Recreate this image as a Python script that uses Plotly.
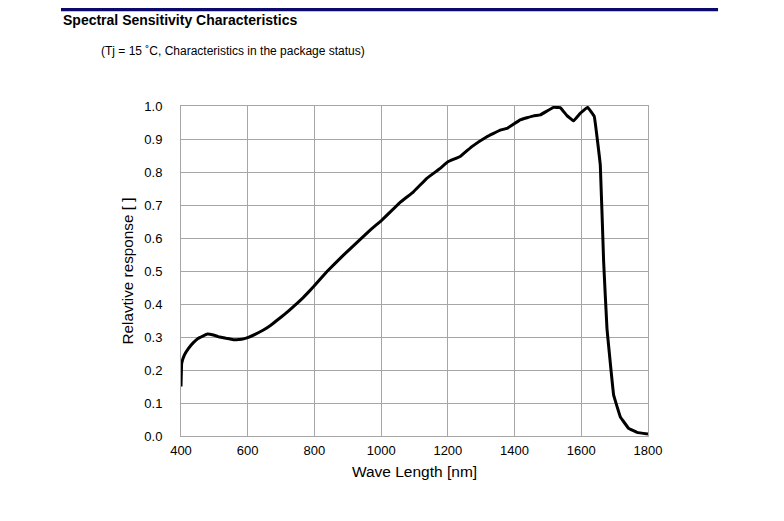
import plotly.graph_objects as go

wavelength = [400, 402, 410, 422, 437, 452, 479, 497, 512, 535, 557, 582, 602, 622, 647, 667, 687, 712, 737,
              767, 797, 837, 887, 927, 967, 1000, 1057, 1097, 1137, 1177, 1200, 1237, 1272, 1317, 1357,
              1377, 1417, 1457, 1477, 1517, 1537, 1557, 1577, 1597, 1619, 1639, 1657, 1667, 1677, 1697,
              1717, 1742, 1767, 1800]
response = [0.15, 0.22, 0.245, 0.265, 0.283, 0.296, 0.309, 0.306, 0.301, 0.296, 0.292, 0.293, 0.299,
            0.308, 0.321, 0.334, 0.35, 0.37, 0.392, 0.42, 0.452, 0.498, 0.548, 0.586, 0.624, 0.652,
            0.708, 0.74, 0.781, 0.811, 0.831, 0.847, 0.877, 0.907, 0.927, 0.932, 0.958, 0.97, 0.973,
            0.996, 0.995, 0.971, 0.955, 0.978, 0.996, 0.968, 0.821, 0.528, 0.326, 0.124, 0.058, 0.023,
            0.011, 0.006]

x_ticks = [400, 600, 800, 1000, 1200, 1400, 1600, 1800]
y_ticks = [0.0, 0.1, 0.2, 0.3, 0.4, 0.5, 0.6, 0.7, 0.8, 0.9, 1.0]

font = "Liberation Sans, Arial, sans-serif"

fig = go.Figure()
fig.add_trace(go.Scatter(x=wavelength, y=response, mode="lines",
                         line=dict(color="black", width=3, shape="spline", smoothing=0.15),
                         showlegend=False, hoverinfo="x+y"))

fig.update_layout(
    width=776, height=513,
    margin=dict(l=173, r=136, t=98, b=85),
    paper_bgcolor="white", plot_bgcolor="white",
    font=dict(family=font, color="black"),
    xaxis=dict(range=[400, 1800], tickvals=x_ticks, ticktext=[str(v) for v in x_ticks],
               showgrid=True, gridcolor="#a6a6a6", gridwidth=1, zeroline=False,
               showline=True, linecolor="#a6a6a6", mirror=True, ticks="",
               tickfont=dict(size=13, family=font), ticklabelstandoff=2,
               title=dict(text="Wave Length [nm]", font=dict(size=15.5, family=font), standoff=9)),
    yaxis=dict(range=[0, 1.0], tickvals=y_ticks, ticktext=[f"{v:.1f}" for v in y_ticks],
               showgrid=True, gridcolor="#a6a6a6", gridwidth=1, zeroline=False,
               showline=True, linecolor="#a6a6a6", mirror=True, ticks="",
               tickfont=dict(size=13, family=font), ticklabelstandoff=15,
               title=dict(text="Relavtive response [ ]", font=dict(size=15.3, family=font), standoff=6)),
    shapes=[dict(type="line", xref="paper", yref="paper", x0=-0.257, x1=1.15, y0=1.2924, y1=1.2924,
                 line=dict(color="#0a0a6e", width=3.5))],
    annotations=[
        dict(text="<b>Spectral Sensitivity Characteristics</b>", xref="paper", yref="paper",
             x=-0.256, y=1.26, xanchor="left", yanchor="middle", showarrow=False,
             font=dict(size=14, family=font, color="black")),
        dict(text="(Tj = 15 ˚C, Characteristics in the package status)", xref="paper", yref="paper",
             x=-0.176, y=1.167, xanchor="left", yanchor="middle", showarrow=False,
             font=dict(size=12, family=font, color="black")),
    ],
)

fig.write_html("out.html")
